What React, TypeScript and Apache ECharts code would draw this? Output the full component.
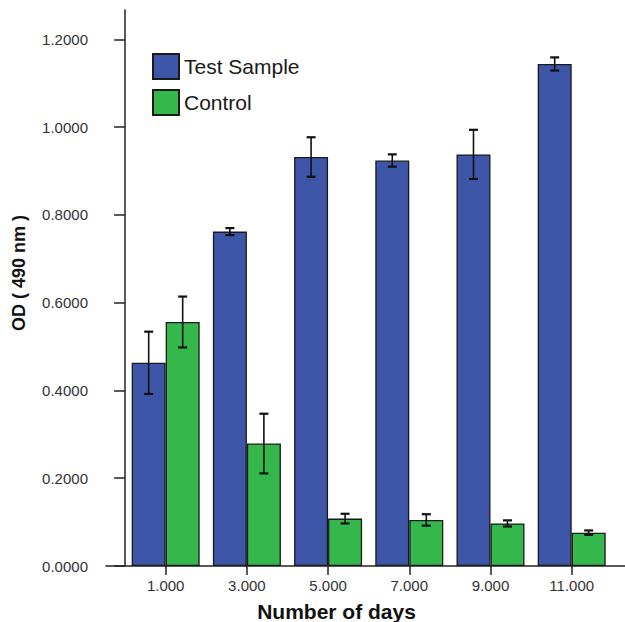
import React, { useEffect, useRef } from "react";
import * as echarts from "echarts";

const days = [1, 3, 5, 7, 9, 11];
const testSample = [0.463, 0.762, 0.932, 0.924, 0.938, 1.144];
const testSampleErr = [0.071, 0.008, 0.045, 0.014, 0.056, 0.015];
const control = [0.556, 0.279, 0.108, 0.105, 0.097, 0.076];
const controlErr = [0.058, 0.068, 0.011, 0.013, 0.007, 0.005];
const yTicks = [0, 0.2, 0.4, 0.6, 0.8, 1.0, 1.2];

const BAR_W = 34;
const FONT = "'Liberation Sans', Arial, sans-serif";

export default function App() {
  const ref = useRef<HTMLDivElement>(null);
  useEffect(() => {
    document.body.style.margin = "0";
    const chart = echarts.init(ref.current!, null, { renderer: "svg" });
    const errData = (vals: number[], errs: number[], side: number) =>
      days.map((d, i) => [d, vals[i], errs[i], side]);
    const renderErr = (params: any, api: any) => {
      const x = api.value(0);
      const m = api.value(1);
      const e = api.value(2);
      const side = api.value(3);
      const off = (side * BAR_W) / 2;
      const top = api.coord([x, m + e]);
      const bot = api.coord([x, m - e]);
      const cx = top[0] + off;
      const cap = 4.5;
      const style = { stroke: "#111", lineWidth: 1.6 };
      return {
        type: "group",
        children: [
          { type: "line", shape: { x1: cx, y1: top[1], x2: cx, y2: bot[1] }, style },
          { type: "line", shape: { x1: cx - cap, y1: top[1], x2: cx + cap, y2: top[1] }, style: { stroke: "#111", lineWidth: 2.2 } },
          { type: "line", shape: { x1: cx - cap, y1: bot[1], x2: cx + cap, y2: bot[1] }, style: { stroke: "#111", lineWidth: 2.2 } },
        ],
      };
    };
    chart.setOption({
      animation: false,
      backgroundColor: "#fff",
      textStyle: { fontFamily: FONT },
      grid: { left: 106, right: 0, top: 10, bottom: 56, containLabel: false, outerBoundsMode: "none" },
      legend: {
        data: ["Test Sample", "Control"],
        orient: "vertical",
        left: 147,
        top: 48,
        itemWidth: 26,
        itemHeight: 25,
        itemGap: 9,
        icon: "rect",
        textStyle: { fontSize: 21, color: "#1a1a1a", fontFamily: FONT },
      },
      xAxis: {
        type: "value",
        min: -0.47,
        max: 12.313,
        name: "Number of days",
        nameLocation: "middle",
        nameGap: 35,
        nameTextStyle: { fontSize: 21, fontWeight: "bold", color: "#111", fontFamily: FONT, padding: [0, 58, 0, 0] },
        axisLine: { show: true, onZero: false, lineStyle: { color: "#222", width: 1.5 } },
        axisTick: { show: true, customValues: days, length: 9, lineStyle: { color: "#222", width: 1.5 } },
        axisLabel: {
          customValues: days,
          formatter: (v: number) => v.toFixed(3),
          fontSize: 15,
          color: "#333",
          margin: 12,
          fontFamily: FONT,
        },
        splitLine: { show: false },
      },
      yAxis: {
        type: "value",
        min: 0,
        max: 1.267,
        name: "OD ( 490 nm )",
        nameLocation: "middle",
        nameRotate: 90,
        nameGap: 78,
        nameTextStyle: { fontSize: 18, fontWeight: "bold", color: "#111", fontFamily: FONT, padding: [0, 0, 0, 30] },
        axisLine: { show: true, lineStyle: { color: "#222", width: 1.5 } },
        axisTick: { show: true, customValues: yTicks, length: 11, lineStyle: { color: "#222", width: 1.5 } },
        axisLabel: {
          customValues: yTicks,
          formatter: (v: number) => v.toFixed(4),
          fontSize: 15,
          color: "#333",
          margin: 18,
          fontFamily: FONT,
        },
        splitLine: { show: false },
      },
      series: [
        {
          name: "Test Sample",
          type: "bar",
          data: days.map((d, i) => [d, testSample[i]]),
          barWidth: BAR_W,
          barGap: "0%",
          itemStyle: { color: "#3E56A8", borderColor: "#1a1a1a", borderWidth: 1.3 },
        },
        {
          name: "Control",
          type: "bar",
          data: days.map((d, i) => [d, control[i]]),
          barWidth: BAR_W,
          barGap: "0%",
          itemStyle: { color: "#34B84B", borderColor: "#1a1a1a", borderWidth: 1.3 },
        },
        {
          name: "Test Sample Error",
          type: "custom",
          renderItem: renderErr,
          data: errData(testSample, testSampleErr, -1),
          encode: { x: 0, y: 1 },
          z: 10,
        },
        {
          name: "Control Error",
          type: "custom",
          renderItem: renderErr,
          data: errData(control, controlErr, 1),
          encode: { x: 0, y: 1 },
          z: 10,
        },
      ],
    });
    return () => chart.dispose();
  }, []);
  return <div ref={ref} style={{ width: 625, height: 622 }} />;
}
